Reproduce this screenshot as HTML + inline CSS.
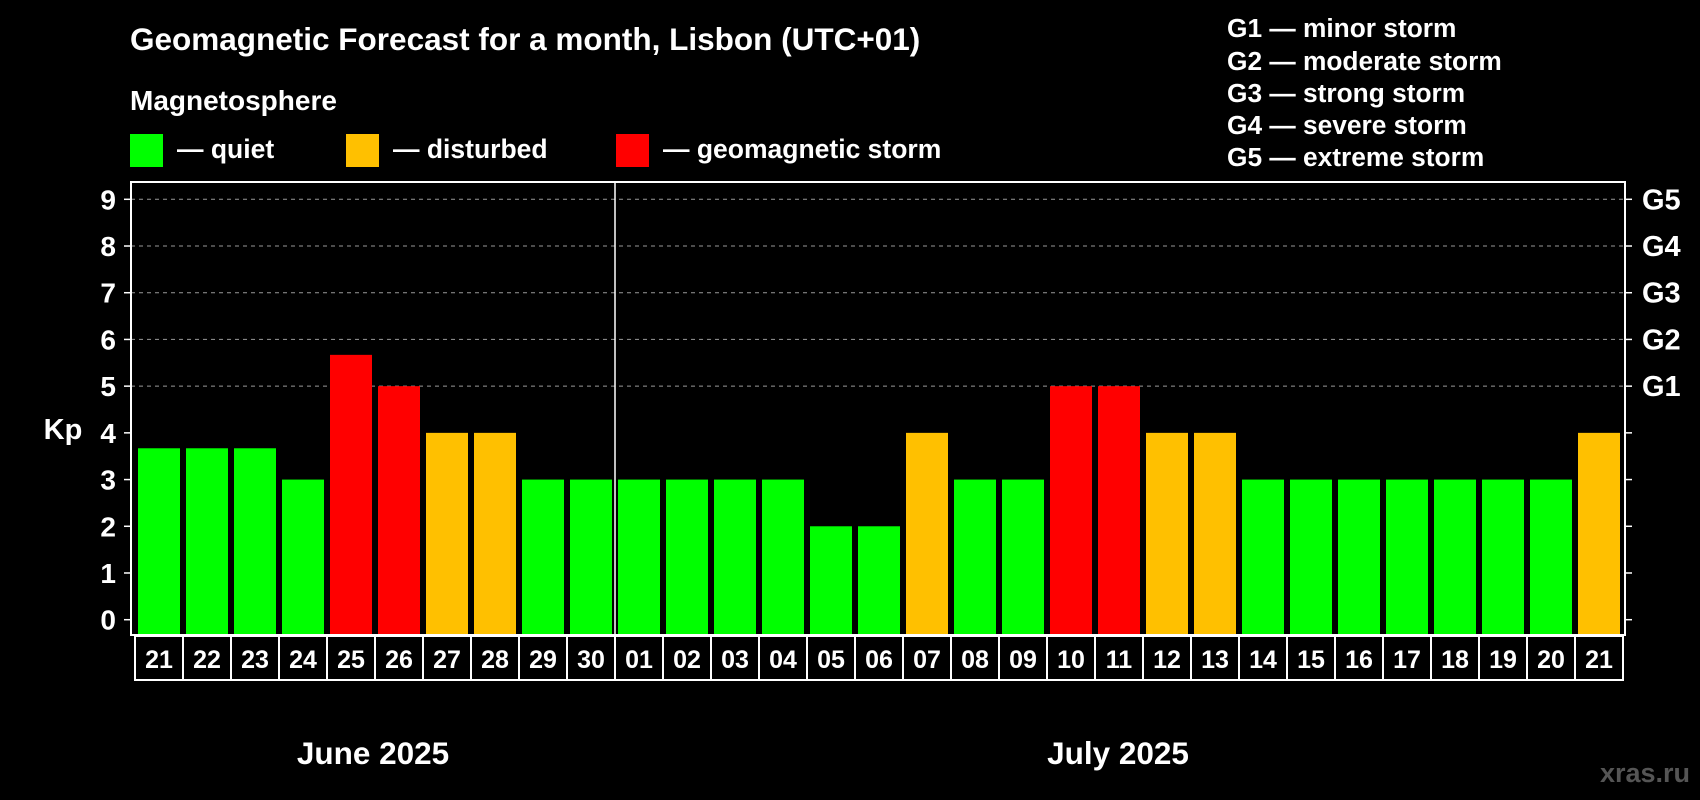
<!DOCTYPE html>
<html><head><meta charset="utf-8"><style>
html,body{margin:0;padding:0;background:#000;width:1700px;height:800px;overflow:hidden}
svg{display:block;font-family:"Liberation Sans",Arial,sans-serif;font-weight:bold}
</style></head><body>
<svg id="chart" width="1700" height="800">
<text x="130" y="50" fill="#fff" font-size="31.5">Geomagnetic Forecast for a month, Lisbon (UTC+01)</text>
<text x="130" y="110" fill="#fff" font-size="28">Magnetosphere</text>
<rect x="130" y="134" width="33" height="33" fill="#00ff00"/>
<text x="177" y="158" fill="#fff" font-size="26.5">— quiet</text>
<rect x="346" y="134" width="33" height="33" fill="#ffc000"/>
<text x="393" y="158" fill="#fff" font-size="26.5">— disturbed</text>
<rect x="616" y="134" width="33" height="33" fill="#ff0000"/>
<text x="663" y="158" fill="#fff" font-size="26.5">— geomagnetic storm</text>
<g font-size="26.3" fill="#fff">
<text x="1227" y="37">G1 — minor storm</text>
<text x="1227" y="70">G2 — moderate storm</text>
<text x="1227" y="102">G3 — strong storm</text>
<text x="1227" y="134">G4 — severe storm</text>
<text x="1227" y="166">G5 — extreme storm</text>
</g>
<text x="63" y="439" fill="#fff" font-size="29" text-anchor="middle">Kp</text>
<g id="plot"></g>
<text x="373" y="764" fill="#fff" font-size="31.5" text-anchor="middle">June 2025</text>
<text x="1118" y="764" fill="#fff" font-size="31.5" text-anchor="middle">July 2025</text>
<text x="1690" y="782" fill="#555" font-size="27" text-anchor="end">xras.ru</text>
</svg>
<script>
const days = ["21","22","23","24","25","26","27","28","29","30","01","02","03","04","05","06","07","08","09","10","11","12","13","14","15","16","17","18","19","20","21"];
const kpValues = [3.67,3.67,3.67,3,5.67,5,4,4,3,3,3,3,3,3,2,2,4,3,3,5,5,4,4,3,3,3,3,3,3,3,4];
const yTicks = [0,1,2,3,4,5,6,7,8,9];
const gLabels = ["G1","G2","G3","G4","G5"];
const gLevels = [5,6,7,8,9];

const NS="http://www.w3.org/2000/svg";
const plot=document.getElementById('plot');
const L=131,R=1625,T=182,B=635;
const y0=619.7, unit=(619.7-199.3)/9;
const yS=v=>y0-v*unit;
const x0=138, pitch=48, bw=42;
const xS=i=>x0+i*pitch;
function mk(tag,attrs){const e=document.createElementNS(NS,tag);for(const k in attrs)e.setAttribute(k,attrs[k]);plot.appendChild(e);return e;}

yTicks.forEach(v=>{
  if(v>=5){const g=mk('line',{x1:L,x2:R,y1:yS(v),y2:yS(v),stroke:'#999','stroke-dasharray':'4,4','stroke-width':1});
  
  }
  const t1=mk('line',{x1:L-7,x2:L,y1:yS(v),y2:yS(v),stroke:'#fff','stroke-width':1.5});
  
  
  const t2=mk('line',{x1:R,x2:R+7,y1:yS(v),y2:yS(v),stroke:'#fff','stroke-width':1.5});
  
  
  const tx=mk('text',{x:116,y:yS(v)+10,fill:'#fff','font-size':28,'text-anchor':'end'});
  tx.textContent=v;
  
  
});
gLabels.forEach((g,i)=>{
  const t=mk('text',{x:1642,y:yS(gLevels[i])+10,fill:'#fff','font-size':29});
  t.textContent=g;
  
  
});
kpValues.forEach((v,i)=>{
  const col=v>=5?'#ff0000':(v>=4?'#ffc000':'#00ff00');
  const b=mk('rect',{x:xS(i),y:yS(v),width:bw,height:B-yS(v),fill:col});
  
  
  const bx=mk('rect',{x:135+i*pitch,y:636,width:pitch,height:44,fill:'#000',stroke:'#fff','stroke-width':2});
  
  
  const t=mk('text',{x:135+i*pitch+pitch/2,y:668,fill:'#fff','font-size':25,'text-anchor':'middle'});
  t.textContent=days[i];
  
  
});
const frame=mk('rect',{x:L,y:T,width:R-L,height:B-T,fill:'none',stroke:'#fff','stroke-width':2});


const sep=mk('line',{x1:615,x2:615,y1:T,y2:680,stroke:'#fff','stroke-width':1.5});


</script>
</body></html>
